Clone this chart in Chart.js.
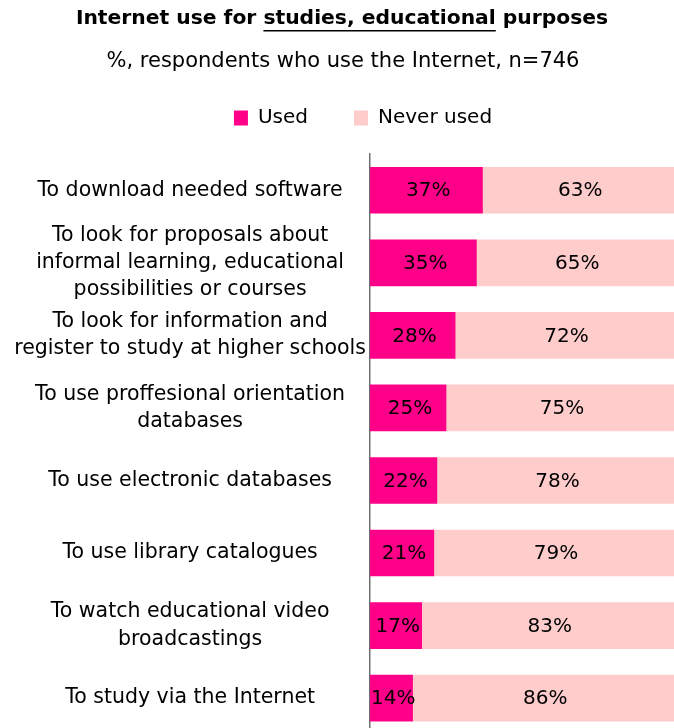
<!DOCTYPE html>
<html>
<head>
<meta charset="utf-8">
<script src="https://cdn.jsdelivr.net/npm/chart.js@4/dist/chart.umd.min.js"></script>
<style>
  html, body { margin: 0; padding: 0; background: #fff; overflow: hidden; }
  .chart-container { position: relative; width: 674px; height: 752px; }
</style>
</head>
<body>
<div class="chart-container">
  <canvas id="chartCanvas"></canvas>
</div>
<script>
// Categories and values
const categories = [
    'To download needed software',
    ['To look for proposals about', 'informal learning, educational', 'possibilities or courses'],
    ['To look for information and', 'register to study at higher schools'],
    ['To use proffesional orientation', 'databases'],
    'To use electronic databases',
    'To use library catalogues',
    ['To watch educational video', 'broadcastings'],
    'To study via the Internet'
];
const usedValues = [37, 35, 28, 25, 22, 21, 17, 14];
const neverUsedValues = [63, 65, 72, 75, 78, 79, 83, 86];

const FONT = '"DejaVu Sans", Verdana, sans-serif';

// Draws the title (part of it underlined) and subtitle on top
const titlePlugin = {
    id: 'titlePlugin',
    beforeInit(chart) {
        // leave some room between legend and bars
        const fit = chart.legend.fit;
        chart.legend.fit = function () {
            fit.call(this);
            this.height += 16;
        };
    },
    afterUpdate(chart) {
        // legend sits a bit right of the middle in the original
        chart.legend.left += 52;
    },
    afterDraw(chart) {
        const c = chart.ctx;
        const cx = chart.width / 2;
        c.save();
        c.fillStyle = '#000';
        c.textBaseline = 'middle';

        // title in three pieces so the middle one can be underlined
        c.font = 'bold 20.3px ' + FONT;
        const parts = ['Internet use for ', 'studies, educational', ' purposes'];
        const widths = parts.map(p => c.measureText(p).width);
        let x = cx - (widths[0] + widths[1] + widths[2]) / 2 + 5;
        const ty = 19;
        c.textAlign = 'left';
        parts.forEach((p, i) => {
            c.fillText(p, x, ty);
            if (i === 1) {
                c.fillRect(x, ty + 11, widths[i], 1.5);
            }
            x += widths[i];
        });

        c.font = '21px ' + FONT;
        c.textAlign = 'center';
        c.fillText('%, respondents who use the Internet, n=746', cx + 6, 62);
        c.restore();
    }
};

// Writes the percentage in the middle of each bar piece
const valueLabels = {
    id: 'valueLabels',
    afterDatasetsDraw(chart) {
        const c = chart.ctx;
        c.save();
        c.font = '20px ' + FONT;
        c.fillStyle = '#000';
        c.textAlign = 'center';
        c.textBaseline = 'middle';
        chart.data.datasets.forEach((ds, i) => {
            chart.getDatasetMeta(i).data.forEach((bar, j) => {
                const mid = (bar.x + bar.base) / 2;
                c.fillText(ds.data[j] + '%', mid + 2, bar.y + 1);
            });
        });
        c.restore();
    }
};

const ctx = document.getElementById('chartCanvas').getContext('2d');
const educationChart = new Chart(ctx, {
    type: 'bar',
    data: {
        labels: categories,
        datasets: [{
            label: 'Used',
            data: usedValues,
            backgroundColor: '#FF0088',
            barThickness: 46
        }, {
            label: 'Never used',
            data: neverUsedValues,
            backgroundColor: '#FFCCCC',
            barThickness: 46
        }]
    },
    options: {
        indexAxis: 'y',
        responsive: true,
        maintainAspectRatio: false,
        animation: false,
        layout: {
            padding: { top: 62, right: 0, bottom: 0, left: 0 }
        },
        plugins: {
            legend: {
                position: 'top',
                labels: {
                    boxWidth: 14,
                    boxHeight: 15,
                    padding: 46,
                    color: '#000',
                    font: { family: FONT, size: 20 }
                }
            },
            tooltip: { enabled: false }
        },
        scales: {
            x: {
                stacked: true,
                display: false,
                min: 0,
                max: 100
            },
            y: {
                stacked: true,
                afterFit(scale) {
                    scale.width = 370;
                },
                grid: { display: false, drawTicks: false },
                border: { display: true, color: '#707070', width: 1.5 },
                ticks: {
                    autoSkip: false,
                    crossAlign: 'center',
                    color: '#000',
                    padding: 4,
                    font: { family: FONT, size: 20.5, lineHeight: 1.33 }
                }
            }
        }
    },
    plugins: [titlePlugin, valueLabels]
});
</script>
</body>
</html>
